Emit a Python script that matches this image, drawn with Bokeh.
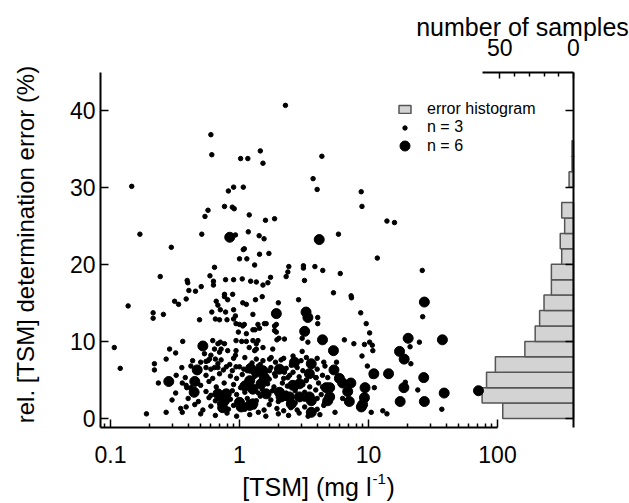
import math
from bokeh.plotting import figure
from bokeh.models import (Range1d, LinearAxis, LinearScale, FixedTicker,
                          CustomJSTickFormatter, Legend, LegendItem, Label)
from bokeh.embed import file_html
from bokeh.resources import INLINE

FONT = "Liberation Sans"

# ---------------- data ----------------
# n = 6 samples (large dots): TSM (mg/l), rel. error (%)
BIG_TSM = [0.84, 4.15, 0.52, 0.283, 0.47, 0.45, 0.445, 0.68, 0.79, 0.765, 0.74,
           1.0, 1.03, 1.2, 1.22, 1.35, 1.52, 1.56, 1.47, 1.2, 1.27, 1.27, 1.61,
           1.93, 2.04, 2.1, 2.04, 2.67, 2.59, 2.92, 2.44, 2.52, 2.92, 3.48, 3.6,
           3.6, 3.6, 3.48, 3.28, 3.39, 3.2, 4.4, 4.7, 4.83, 0.72, 1.1,
           27.1, 20.3, 37.4, 5.35, 17.4, 18.9, 5.4, 11.0, 14.3, 5.95, 26.8, 6.3,
           7.3, 5.0, 6.9, 9.4, 18.8, 38.6, 71.2, 5.0, 7.1, 9.3, 9.0, 8.8, 17.6, 27.1]
BIG_ERR = [23.5, 23.2, 9.4, 4.8, 6.3, 4.8, 3.4, 3.2, 3.2, 2.3, 1.4,
           2.1, 1.5, 1.7, 6.5, 6.0, 6.2, 5.3, 4.5, 4.9, 3.8, 1.9, 3.2,
           13.6, 3.4, 2.8, 6.4, 7.3, 4.3, 4.5, 2.8, 1.9, 2.8, 2.8, 2.3,
           0.8, 7.1, 5.8, 13.8, 13.1, 11.3, 10.2, 4.0, 2.3, 2.8, 4.2,
           15.1, 10.4, 10.2, 8.8, 8.7, 7.7, 6.3, 5.8, 5.8, 5.2, 5.3, 4.6,
           4.6, 4.0, 3.5, 4.0, 4.0, 3.3, 3.6, 2.8, 2.2, 2.7, 1.8, 1.5, 2.2, 2.2]

# n = 3 samples (small dots)
SMALL_TSM = [
    2.27, 0.60, 0.61, 1.02, 1.16, 1.45, 1.52, 4.35,
    0.146, 0.82, 0.90, 1.07, 3.72, 4.0, 8.78, 8.9,
    0.57, 0.54, 0.765, 0.88, 0.91, 1.19, 1.59, 1.87, 13.9, 15.9,
    0.169, 0.51, 0.93, 1.17, 1.42, 1.55, 5.85,
    0.296, 1.07, 1.09, 1.0, 1.14, 1.43, 1.69, 11.7,
    1.31, 2.41, 3.13, 3.13, 3.84, 4.42, 6.04, 26.1, 0.64,
    0.243, 0.393, 0.397, 0.505, 0.405, 0.456, 0.59, 0.628, 0.628, 0.78, 0.90,
    1.05, 1.22, 1.35, 1.52, 1.66, 1.74, 2.3, 2.37, 3.19,
    5.35, 7.33, 7.38,
    0.137, 0.314, 0.337, 0.386, 0.214, 0.214, 0.257, 0.49, 0.61, 0.66, 0.68,
    0.765, 0.765, 0.81, 0.885, 0.71, 0.78, 0.65, 0.70, 0.80, 0.90, 0.93, 0.90,
    1.06, 1.13, 1.33, 1.5, 1.27, 1.0, 1.09, 1.39, 1.56, 1.27, 1.32, 2.0, 2.87,
    4.04, 4.04, 1.93, 1.87, 2.02, 3.06, 3.39, 3.06,
    1.43, 1.61, 1.87, 1.93, 1.95, 2.23, 1.27, 1.39, 0.94, 1.06, 0.98, 1.13,
    8.7, 9.6, 26.3, 10.2, 6.5, 7.7, 9.3, 10.2, 10.7, 10.8, 24.8, 21.0, 5.65,
    8.9, 21.3, 9.8, 10.6, 19.3, 24.1, 6.3, 37.0, 10.5, 12.9, 13.9, 11.1, 4.83, 4.55,
    0.107, 0.119, 0.287, 0.363, 0.32, 0.219, 0.219, 0.27, 0.235, 0.323, 0.19,
    0.27, 0.36, 0.386, 0.39, 0.433, 0.535, 0.357, 0.386, 0.42,
    0.62, 0.68, 0.71, 0.765, 0.585, 0.65, 0.68, 0.81, 0.72, 0.70, 0.94, 0.94,
    1.04, 1.13, 1.19, 1.35, 1.31, 1.52, 1.71, 0.79, 0.84, 0.94, 0.64, 0.93,
    0.57, 0.6, 0.55, 0.6, 0.64, 1.35, 1.52, 1.81, 1.35, 1.76, 2.1, 2.52, 1.71,
    1.87, 2.23, 2.37, 3.28, 3.93,
    0.5, 0.55, 0.72, 0.9, 1.1, 1.25, 1.45, 1.9, 2.2, 2.6, 3.0, 3.3, 4.0, 4.5,
    0.42, 0.68, 0.75, 0.88, 1.0, 1.08, 1.15, 1.4, 1.75, 2.0, 2.3, 2.6, 2.8, 3.1, 4.0, 4.6,
    0.38, 0.55, 0.62, 0.7, 0.85, 0.95, 1.05, 1.3, 1.45, 1.7, 1.9, 2.2, 2.45, 2.9, 3.3, 3.9, 4.4,
    0.36, 0.5, 0.58, 0.66, 0.76, 0.9, 1.02, 1.12, 1.38, 1.65, 1.85, 2.15, 2.35, 2.75, 3.1, 3.5, 4.1, 4.4,
    0.32, 0.42, 0.55, 0.6, 0.88, 0.95, 1.1, 1.4, 1.5, 1.8, 2.3, 2.7, 3.2, 3.9, 4.3,
    0.3, 0.4, 0.48, 0.58, 0.65, 0.85, 1.15, 1.35, 1.45, 1.75, 2.0, 2.25, 2.7, 3.2, 4.0, 4.6,
    0.35, 0.45, 0.52, 0.6, 0.7, 0.82, 0.9, 1.1, 1.3, 1.55, 1.7, 1.95, 2.2, 2.5, 2.8, 3.2, 4.0, 4.5,
    0.5, 0.65, 0.8, 0.95, 1.2, 1.4, 1.6, 2.0, 2.4, 2.9, 3.4, 4.2, 5.5]
SMALL_ERR = [
    40.6, 36.8, 34.2, 33.7, 33.7, 34.7, 33.1, 34.0,
    30.1, 29.5, 30.0, 30.0, 31.1, 29.7, 29.4, 27.5,
    27.0, 26.2, 27.5, 27.4, 27.2, 26.4, 25.7, 25.9, 25.6, 25.4,
    23.9, 23.9, 23.8, 24.2, 23.7, 23.3, 23.9,
    22.2, 21.9, 22.0, 20.7, 20.7, 21.3, 21.4, 20.8,
    19.9, 19.7, 19.8, 19.5, 19.7, 19.2, 18.8, 19.2, 19.6,
    18.4, 17.9, 17.6, 17.1, 16.6, 16.5, 18.5, 17.8, 17.3, 18.0, 18.0,
    18.1, 17.8, 17.7, 17.3, 17.6, 18.3, 18.4, 19.0, 17.9,
    16.3, 15.9, 15.65,
    14.6, 15.2, 14.8, 15.5, 13.7, 13.0, 13.5, 12.8, 13.8, 15.2, 14.7,
    16.1, 15.8, 15.4, 16.1, 14.1, 13.8, 12.9, 12.8, 12.8, 14.1, 13.3, 12.9,
    15.0, 14.8, 15.4, 15.8, 13.5, 12.2, 12.2, 12.2, 12.3, 11.5, 11.5, 15.0, 15.4,
    13.1, 12.3, 12.2, 11.4, 10.4, 10.4, 9.9, 8.7,
    11.7, 12.3, 12.0, 11.2, 10.2, 10.3, 10.1, 10.1, 12.3, 12.0, 11.2, 11.0,
    13.7, 12.3, 13.2, 11.1, 10.2, 9.7, 9.6, 9.9, 9.5, 8.8, 9.9, 9.3, 7.3,
    8.1, 7.1, 6.8, 5.5, 4.7, 3.7, 2.6, 1.2, 0.8, 1.0, 0.6, 4.0, 5.3, 1.9,
    9.2, 6.5, 9.0, 10.0, 8.5, 7.1, 6.3, 7.7, 4.6, 5.6, 0.6,
    0.8, 0.8, 1.5, 4.0, 7.5, 8.4, 6.6, 4.3, 4.0,
    10.1, 9.7, 9.9, 9.7, 7.7, 7.7, 7.1, 8.8, 9.0, 8.6, 10.1, 8.8,
    10.0, 10.0, 9.2, 9.7, 8.8, 7.5, 7.7, 6.7, 7.0, 6.7, 9.0, 8.2,
    7.5, 8.2, 6.6, 6.4, 6.6, 9.0, 9.2, 9.0, 7.7, 7.9, 7.6, 6.9, 6.2,
    5.8, 6.0, 5.3, 4.9, 5.3,
    7.3, 7.4, 7.6, 7.8, 7.9, 7.2, 7.0, 7.3, 7.8, 8.1, 7.5, 7.9, 7.8, 7.3,
    6.8, 6.6, 6.3, 6.2, 6.7, 6.4, 6.2, 6.8, 6.6, 6.1, 6.5, 6.0, 6.6, 6.2, 6.4, 6.8,
    5.3, 5.6, 5.2, 5.8, 5.5, 5.2, 5.7, 5.4, 5.9, 5.1, 5.5, 5.2, 5.6, 5.4, 5.0, 5.3, 5.6,
    4.6, 4.3, 4.8, 4.1, 4.6, 4.4, 4.0, 4.7, 4.2, 4.5, 4.1, 4.6, 4.2, 4.0, 4.4, 4.1, 4.6, 4.1,
    3.3, 3.9, 3.5, 3.0, 3.6, 3.1, 3.4, 3.3, 3.8, 3.6, 3.3, 3.6, 3.4, 3.7, 3.1,
    2.4, 2.6, 2.2, 2.7, 2.3, 2.5, 2.6, 2.3, 2.9, 2.4, 2.2, 2.6, 2.0, 2.5, 2.6, 2.1,
    1.3, 1.8, 1.1, 1.6, 1.9, 1.2, 1.7, 1.2, 1.5, 1.1, 1.8, 1.3, 1.0, 1.4, 1.1, 1.5, 1.2, 1.7,
    0.6, 0.4, 0.7, 0.3, 0.5, 0.8, 0.3, 0.6, 0.4, 0.7, 0.3, 0.5, 0.8]

# error histogram: bin lower edges (%), bin width, counts
HIST_BIN_LOW = [0, 2, 4, 6, 8, 10, 12, 14, 16, 18, 20, 22, 24, 26, 28, 30, 32, 34]
HIST_BIN_WIDTH = 2
HIST_COUNTS = [48, 62, 59, 53, 33, 26, 23, 20, 15, 15, 8, 9, 6, 8, 0, 3, 1, 1]

X_MAJOR_TICKS = [0.1, 1, 10, 100]
X_MINOR_TICKS = [0.09] + [m * d for d in (0.1, 1, 10) for m in range(2, 10)]
Y_TICKS = [0, 10, 20, 30, 40]
COUNT_MAJOR_TICKS = [0, 50]
COUNT_MINOR_TICKS = [10, 20, 30, 40]

# visible extents of the axes (data units)
TSM_MIN, TSM_MAX = 0.08365, 100
ERR_MIN, ERR_MAX = -1.167, 44.86
COUNT_MAX = 61.5

# ---------------- figure (frame = whole canvas, axes at fixed locations) ----------------
p = figure(width=629, height=503, x_axis_type="log",
           x_range=Range1d(0.014037, 1054.9), y_range=Range1d(-11.021, 54.198),
           output_backend="svg", toolbar_location=None,
           min_border_left=0, min_border_right=0,
           min_border_top=0, min_border_bottom=0)
p.title.visible = False
p.extra_x_ranges = {"hist": Range1d(388.74, -37.99)}
p.extra_x_scales = {"hist": LinearScale()}
p.outline_line_color = None
p.xgrid.visible = False
p.ygrid.visible = False
p.background_fill_color = "white"
p.border_fill_color = "white"

# histogram
h_left = [c for c in HIST_COUNTS if c > 0]
h_bottom = [b for b, c in zip(HIST_BIN_LOW, HIST_COUNTS) if c > 0]
h_top = [b + HIST_BIN_WIDTH for b, c in zip(HIST_BIN_LOW, HIST_COUNTS) if c > 0]
hist_r = p.quad(left=h_left, right=0, bottom=h_bottom, top=h_top,
                x_range_name="hist", fill_color="#d3d3d3",
                line_color="#555555", line_width=1.5)

small_r = p.scatter(SMALL_TSM, SMALL_ERR, size=4.5, marker="circle",
                    fill_color="black", line_color="black")
big_r = p.scatter(BIG_TSM, BIG_ERR, size=10, marker="circle",
                  fill_color="black", line_color="black")

# bottom log axis
xa = p.below[0]
xa.fixed_location = ERR_MIN
xa.ticker = FixedTicker(ticks=X_MAJOR_TICKS, minor_ticks=X_MINOR_TICKS)
xa.formatter = CustomJSTickFormatter(code="return String(tick)")
xa.bounds = (TSM_MIN, TSM_MAX)
xa.major_tick_in = 8
xa.major_tick_out = 0
xa.minor_tick_in = 4
xa.minor_tick_out = 0
xa.axis_line_width = 2
xa.major_tick_line_width = 1.5
xa.minor_tick_line_width = 1.5
xa.major_label_text_font = FONT
xa.major_label_text_font_size = "23px"
xa.major_label_text_color = "black"
xa.major_label_standoff = 18

# left axis
ya = p.left[0]
ya.fixed_location = TSM_MIN
ya.ticker = FixedTicker(ticks=Y_TICKS)
ya.bounds = (ERR_MIN, ERR_MAX)
ya.major_tick_in = 8
ya.major_tick_out = 0
ya.minor_tick_line_color = None
ya.axis_line_width = 2
ya.major_tick_line_width = 1.5
ya.major_label_text_font = FONT
ya.major_label_text_font_size = "23px"
ya.major_label_text_color = "black"
ya.major_label_standoff = 5

# right axis of the histogram (no labels)
ra = LinearAxis(x_range_name="hist", fixed_location=0,
                ticker=FixedTicker(ticks=Y_TICKS), bounds=(ERR_MIN, ERR_MAX),
                formatter=CustomJSTickFormatter(code="return ''"),
                major_tick_in=8, major_tick_out=0, minor_tick_line_color=None,
                axis_line_width=2, major_tick_line_width=1.5)
p.add_layout(ra, "right")

# top axis (number of samples)
ta = LinearAxis(x_range_name="hist", fixed_location=ERR_MAX,
                ticker=FixedTicker(ticks=COUNT_MAJOR_TICKS, minor_ticks=COUNT_MINOR_TICKS),
                bounds=(0, COUNT_MAX),
                major_tick_in=6, major_tick_out=0, minor_tick_in=4, minor_tick_out=0,
                axis_line_width=2, major_tick_line_width=1.5, minor_tick_line_width=1.5,
                major_label_text_font=FONT, major_label_text_font_size="23px",
                major_label_text_color="black", major_label_standoff=17)
p.add_layout(ta, "above")

# axis titles as text
p.add_layout(Label(x=0.0221, y=22.56, angle=math.pi / 2,
                   text="rel. [TSM] determination error (%)",
                   text_align="center", text_baseline="middle",
                   text_font=FONT, text_font_size="24px", text_color="black"))
p.add_layout(Label(x=34.6, y=50.8, x_range_name="hist", text="number of samples",
                   text_align="center", text_baseline="middle",
                   text_font=FONT, text_font_size="25px", text_color="black"))
p.add_layout(Label(x=10.74, y=-8.9, text="[TSM] (mg l", text_align="right",
                   text_baseline="middle", x_offset=-1,
                   text_font=FONT, text_font_size="25px", text_color="black"))
p.add_layout(Label(x=10.74, y=-8.9, text="-1", text_align="left",
                   text_baseline="middle", x_offset=0, y_offset=8,
                   text_font=FONT, text_font_size="15px", text_color="black"))
p.add_layout(Label(x=10.74, y=-8.9, text=")", text_align="left",
                   text_baseline="middle", x_offset=14,
                   text_font=FONT, text_font_size="25px", text_color="black"))

# legends
common = dict(border_line_color=None, background_fill_alpha=0, padding=0, margin=0,
              spacing=0, label_text_font=FONT, label_text_font_size="16px",
              label_text_color="black")
legA = Legend(items=[LegendItem(label="error histogram", renderers=[hist_r])],
              location=(397, 385), glyph_width=15, glyph_height=10,
              label_standoff=15, label_height=10, **common)
legB = Legend(items=[LegendItem(label="n = 3", renderers=[small_r])],
              location=(397, 367), glyph_width=15, glyph_height=11,
              label_standoff=15, label_height=11, **common)
legC = Legend(items=[LegendItem(label="n = 6", renderers=[big_r])],
              location=(392, 345), glyph_width=25, glyph_height=25,
              label_standoff=10, label_height=25, **common)
for lg in (legA, legB, legC):
    p.add_layout(lg)

open("out.html", "w").write(file_html(p, INLINE))
